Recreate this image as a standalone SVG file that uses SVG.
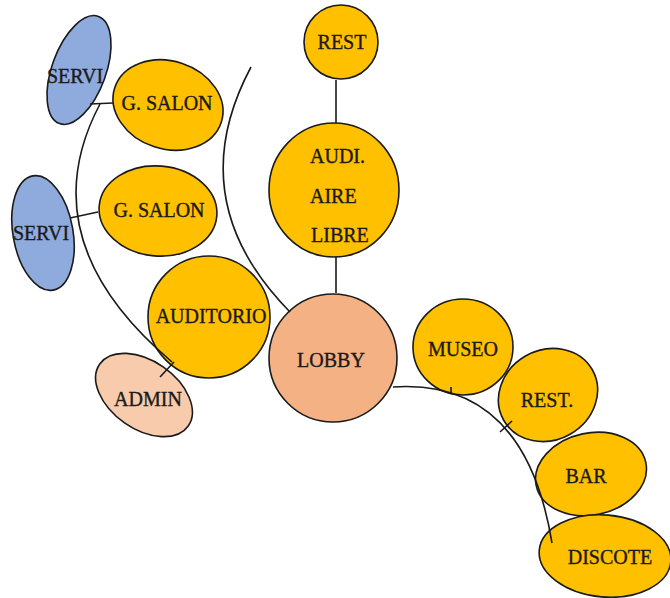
<svg xmlns="http://www.w3.org/2000/svg" width="670" height="598" viewBox="0 0 670 598">
<style>
.n{stroke:#1a1a1a;stroke-width:1.6}
.y{fill:#FFC000}
.b{fill:#8FAADC}
.l{fill:#F4B183}
.a{fill:#F8CBAD}
text{font-family:"Liberation Serif","Times New Roman",serif;font-size:20px;fill:#1a1a1a;stroke:#1a1a1a;stroke-width:0.35}
.c{text-anchor:middle}
.k{fill:none;stroke:#1a1a1a;stroke-width:1.6}
</style>
<rect width="670" height="598" fill="#fff"/>
<g id="servi1"><ellipse class="n b" cx="79" cy="70" rx="27" ry="57" transform="rotate(20 79 70)"/><text class="c" x="75" y="83">SERVI</text></g>
<g id="gsalon1"><ellipse class="n y" cx="168" cy="105" rx="56" ry="44" transform="rotate(18 168 105)"/><text class="c" x="167" y="110">G. SALON</text></g>
<g id="servi2"><ellipse class="n b" cx="43" cy="233" rx="30" ry="58" transform="rotate(-10 43 233)"/><text class="c" x="41" y="240">SERVI</text></g>
<g id="gsalon2"><ellipse class="n y" cx="158" cy="211" rx="59" ry="45" transform="rotate(5 158 211)"/><text class="c" x="159" y="217">G. SALON</text></g>
<g id="auditorio"><circle class="n y" cx="209" cy="317" r="61"/><text class="c" x="211" y="323">AUDITORIO</text></g>
<g id="admin"><ellipse class="n a" cx="144" cy="395" rx="54" ry="34" transform="rotate(35 144 395)"/><text class="c" x="148" y="406">ADMIN</text></g>
<g id="rest1"><circle class="n y" cx="341" cy="42" r="37"/><text class="c" x="342" y="49">REST</text></g>
<g id="audiaire"><ellipse class="n y" cx="334" cy="190" rx="65" ry="67"/><text x="310" y="163">AUDI.</text><text x="310" y="203">AIRE</text><text x="311" y="242">LIBRE</text></g>
<g id="lobby"><circle class="n l" cx="333" cy="358" r="64"/><text class="c" x="331" y="367">LOBBY</text></g>
<g id="museo"><ellipse class="n y" cx="463" cy="347" rx="50" ry="48"/><text class="c" x="463" y="356">MUSEO</text></g>
<g id="rest2"><ellipse class="n y" cx="548" cy="395" rx="51" ry="45" transform="rotate(-30 548 395)"/><text class="c" x="547" y="407">REST.</text></g>
<g id="bar"><ellipse class="n y" cx="591" cy="474" rx="56" ry="41" transform="rotate(-12 591 474)"/><text class="c" x="586" y="483">BAR</text></g>
<g id="discote"><ellipse class="n y" cx="605" cy="556" rx="66" ry="41" transform="rotate(5 605 556)"/><text class="c" x="610" y="564">DISCOTE</text></g>
<g id="connectors">
<path class="k" d="M90,104 L113,103"/>
<path class="k" d="M100,104 Q28,240 172,362"/>
<path class="k" d="M160,377 L174,362"/>
<path class="k" d="M70,218 L98,212"/>
<path class="k" d="M251,67 Q180,200 290,312"/>
<path class="k" d="M336,80 L336,123"/>
<path class="k" d="M336,257 L336,293"/>
<path class="k" d="M393,387 Q525,378 552,543"/>
<path class="k" d="M451,387 L451,394"/>
<path class="k" d="M500,432 L512,421"/>
</g>
</svg>
